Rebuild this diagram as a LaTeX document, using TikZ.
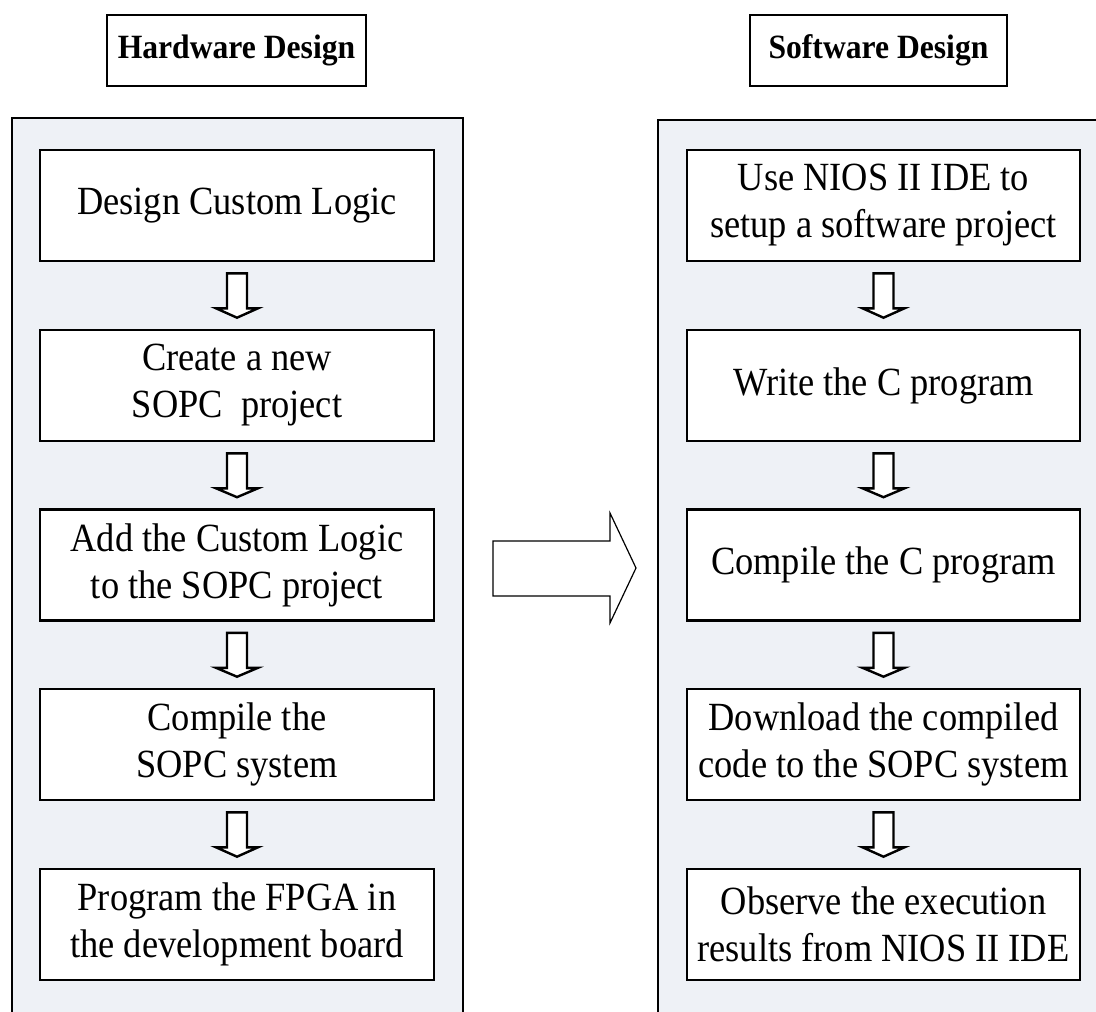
\documentclass[tikz,border=0pt]{standalone}
\usepackage{fontspec}
\setmainfont{Liberation Serif}
\newfontfamily\bodyfont[FakeStretch=0.91]{Liberation Serif}
\newfontfamily\headfont[FakeStretch=0.93]{Liberation Serif}
\usetikzlibrary{calc}
\definecolor{panelfill}{HTML}{EEF1F6}
\tikzset{
  panel/.style={draw=black, line width=2.6pt, fill=panelfill},
  stepbox/.style={draw=black, line width=2.6pt, fill=white, minimum width=394pt, minimum height=111pt, inner sep=0pt, align=center, font=\bodyfont\fontsize{40}{47}\selectfont},
  titlebox/.style={draw=black, line width=2.2pt, fill=white, minimum height=71pt, inner sep=0pt, align=center, font=\headfont\fontsize{34}{40}\selectfont\bfseries},
  downarrow/.style={draw=black, line width=2.4pt, fill=white, line join=miter},
  bigarrow/.style={draw=black, line width=1.2pt, fill=white}
}
\newcommand{\dnarrow}[2]{%
  \draw[downarrow] ($(#1.south)+(-10,11)$) -- ($(#1.south)+(10,11)$) -- ($(#1.south)+(10,46)$)
    -- ($(#1.south)+(21,46)$) -- ($(#2.north)+(0,-11)$) -- ($(#1.south)+(-21,46)$)
    -- ($(#1.south)+(-10,46)$) -- cycle;}
\begin{document}
\begin{tikzpicture}[x=1pt,y=-1pt]
\useasboundingbox (0,0) rectangle (1096,1012);
\clip (0,0) rectangle (1096,1012);
\fill[white] (0,0) rectangle (1096,1012);
% titles
\node[titlebox, minimum width=259pt] (hwt) at (236.5,50.5) {Hardware Design};
\node[titlebox, minimum width=257pt] (swt) at (878.5,50.5) {Software Design};
% panels
\draw[panel] (12,1040) -- (12,118) -- (463,118) -- (463,1040);
\draw[panel] (658,1040) -- (658,120) -- (1110,120) -- (1110,1040);
% hardware steps
\node[stepbox] (h1) at (237,205.5) {Design Custom Logic};
\node[stepbox] (h2) at (237,385.5) {Create a new\\SOPC\ \ project};
\node[stepbox] (h3) at (237,565) {Add the Custom Logic\\to the SOPC project};
\node[stepbox] (h4) at (237,744.5) {Compile the\\SOPC system};
\node[stepbox] (h5) at (237,924.5) {Program the FPGA in\\the development board};
% software steps
\node[stepbox, minimum width=393pt] (s1) at (883.5,205.5) {Use NIOS II IDE to\\setup a software project};
\node[stepbox, minimum width=393pt] (s2) at (883.5,385.5) {Write the C program};
\node[stepbox, minimum width=393pt] (s3) at (883.5,565) {Compile the C program};
\node[stepbox, minimum width=393pt] (s4) at (883.5,744.5) {Download the compiled\\code to the SOPC system};
\node[stepbox, minimum width=393pt] (s5) at (883.5,924.5) {Observe the execution\\results from NIOS II IDE};
% arrows
\dnarrow{h1}{h2}
\dnarrow{h2}{h3}
\dnarrow{h3}{h4}
\dnarrow{h4}{h5}
\dnarrow{s1}{s2}
\dnarrow{s2}{s3}
\dnarrow{s3}{s4}
\dnarrow{s4}{s5}
% big arrow between panels
\draw[bigarrow] (493,541) -- (610,541) -- (610,513) -- (636,568) -- (610,623) -- (610,596) -- (493,596) -- cycle;
\end{tikzpicture}
\end{document}
